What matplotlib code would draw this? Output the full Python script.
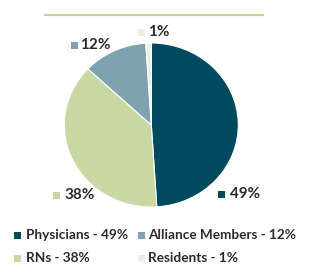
import matplotlib
matplotlib.use("Agg")
import matplotlib.pyplot as plt
from matplotlib.patches import Rectangle
from matplotlib.lines import Line2D

categories = ["Physicians", "RNs", "Alliance Members", "Residents"]
values = [49, 38, 12, 1]
colors = ["#004a5f", "#c9d8a2", "#7ea3ae", "#ebefdf"]
legend_order = ["Physicians", "Alliance Members", "RNs", "Residents"]

plt.rcParams['font.family'] = ['Lato', 'DejaVu Sans']
W, H = 310, 267
fig = plt.figure(figsize=(W/100, H/100), dpi=100)
fig.patch.set_facecolor("white")

# rule line at top
fig.add_artist(Line2D([45/W, 263/W], [1-15/H, 1-15/H], color="#c5d49a", lw=1.6))

# pie box in pixels (slightly squashed vertically as in reference)
left, right, top, bottom = 64.3, 238.3, 43, 207
ax = fig.add_axes([left/W, 1-bottom/H, (right-left)/W, (bottom-top)/H])
ax.pie(values, colors=colors, startangle=90, counterclock=False,
       wedgeprops=dict(edgecolor="white", linewidth=0.8))
ax.set_xlim(-1, 1)
ax.set_ylim(-1, 1)
ax.set_aspect("auto")
ax.axis("off")

tc = "#2b2b2b"
sq = 7

def marker(x, y, color):
    fig.add_artist(Rectangle((x/W, 1-(y+sq/2)/H), sq/W, sq/H,
                             transform=fig.transFigure, color=color, lw=0))

# slice labels: (square left, text left, center y) in pixels
lab = {
    "Physicians": (218, 230, 194),
    "RNs": (53, 64.5, 195),
    "Alliance Members": (70.5, 80, 45),
    "Residents": (137.5, 148.5, 32),
}
for c, v, col in zip(categories, values, colors):
    sx, tx, y = lab[c]
    marker(sx, y, col)
    fig.text(tx/W, 1-y/H, f"{v}%", fontsize=11, fontweight="bold",
             color=tc, va="center", ha="left")

# legend
pos = {
    "Physicians": (14, 26, 235),
    "Alliance Members": (137.5, 148.5, 235),
    "RNs": (14, 26, 258),
    "Residents": (137.5, 148.5, 258),
}
vmap = dict(zip(categories, values))
cmap = dict(zip(categories, colors))
for c in legend_order:
    sx, tx, y = pos[c]
    marker(sx, y, cmap[c])
    fig.text(tx/W, 1-y/H, f"{c} - {vmap[c]}%", fontsize=9.8,
             fontweight="bold", color=tc, va="center", ha="left")

fig.savefig("out.png", dpi=100, facecolor="white")
